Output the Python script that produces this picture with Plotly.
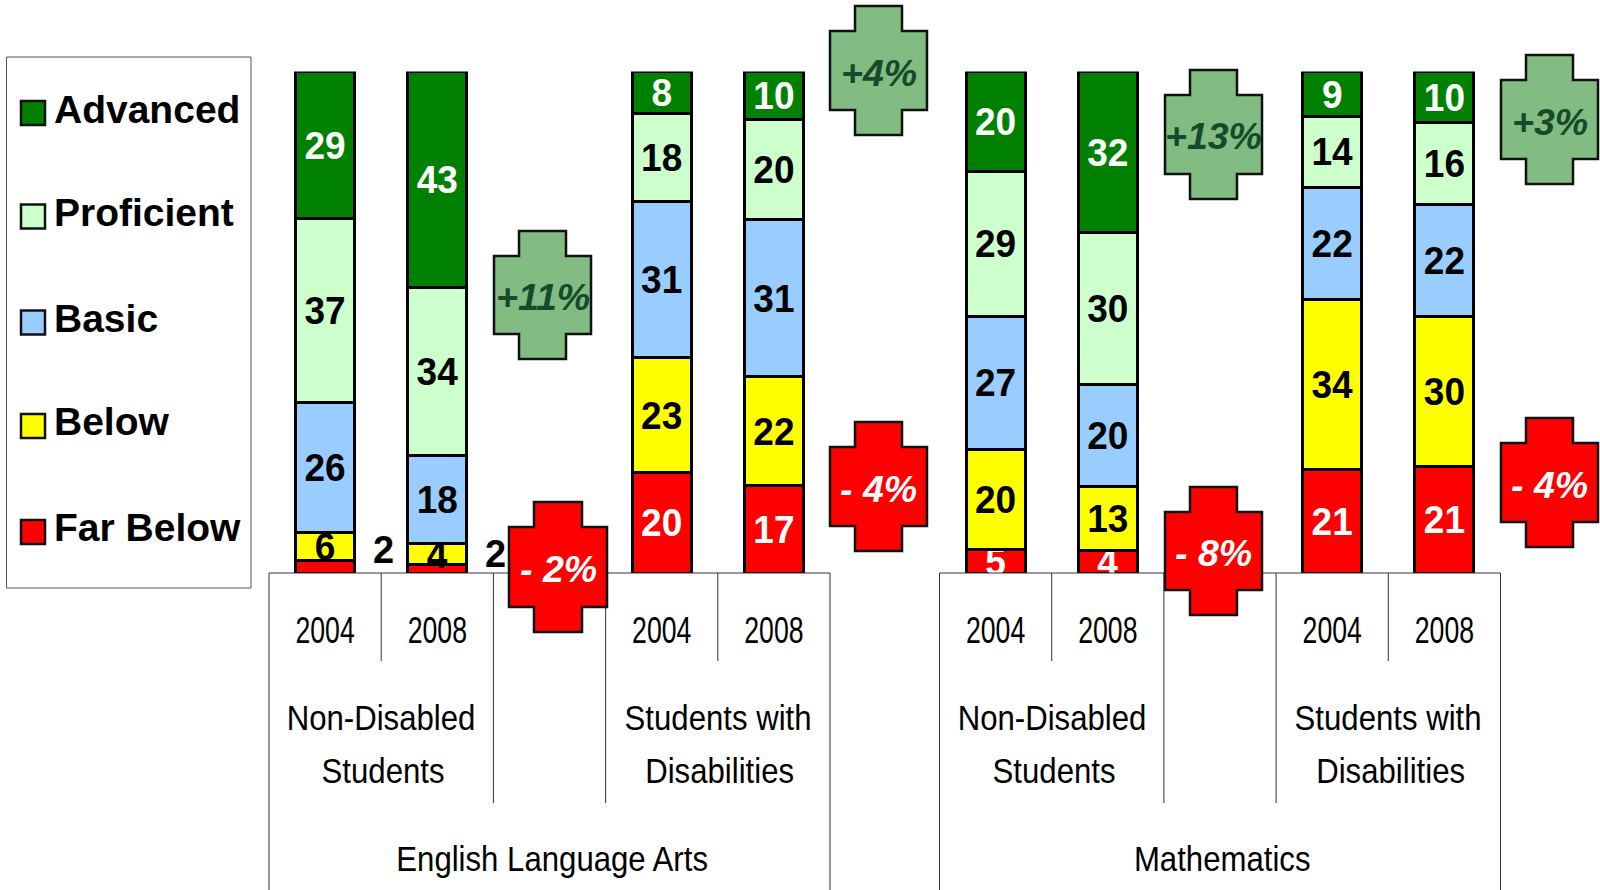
import plotly.graph_objects as go

WIDTH, HEIGHT = 1600, 890

# ---- data (percent of students, bottom to top of each stack) ----
years = ["2004", "2008", "2004", "2008"]
slots = [0, 1, 3, 4]
levels = ["Far Below", "Below", "Basic", "Proficient", "Advanced"]

far_below_ela = [2.4, 1.6, 20.0, 17.4]
below_ela = [5.7, 4.2, 23.0, 21.8]
basic_ela = [25.9, 17.6, 31.1, 31.2]
proficient_ela = [36.6, 33.6, 17.6, 20.0]
advanced_ela = [29.4, 43.0, 8.3, 9.6]

far_below_math = [4.6, 4.4, 20.6, 21.2]
below_math = [20.0, 12.8, 34.0, 29.9]
basic_math = [26.6, 20.4, 22.4, 22.4]
proficient_math = [28.9, 30.2, 14.1, 16.3]
advanced_math = [19.9, 32.2, 9.0, 10.2]

ela_values = [far_below_ela, below_ela, basic_ela, proficient_ela, advanced_ela]
math_values = [far_below_math, below_math, basic_math, proficient_math, advanced_math]

group_labels = [("Non-Disabled", "Students"), ("Students with", "Disabilities")]
subjects = ["English Language Arts", "Mathematics"]

callout_labels = ["+11%", "- 2%", "+4%", "- 4%", "+13%", "- 8%", "+3%", "- 4%"]

# ---- styles and layout ----
fills = ["#FF0000", "#FFFF00", "#99CCFF", "#CCFFCC", "#008000"]
text_colors = ["white", "black", "black", "black", "white"]
FONT = "Liberation Sans"
AXIS_LINE = "#333333"
BASE_Y, TOP_Y = 573, 71.5
ELA_X, MATH_X, PANEL_W = 269, 939.5, 561
LEVEL_Y = [661, 803, 890]


def px(x):
    return x / WIDTH


def py(y):
    return 1 - y / HEIGHT


fig = go.Figure()
for axis, table in (("x", ela_values), ("x2", math_values)):
    for i, name in enumerate(levels):
        vals = table[i]
        fig.add_trace(go.Bar(
            x=slots, y=vals, name=name, xaxis=axis, yaxis="y",
            text=[f"{v:.0f}" if v > 3 else "" for v in vals],
            textposition="inside", insidetextanchor="middle",
            constraintext="none", textangle=0, cliponaxis=False,
            textfont=dict(family=FONT, size=39, color=text_colors[i], weight=700),
            marker=dict(color=fills[i], line=dict(color="black", width=3)),
            showlegend=False, hoverinfo="skip",
        ))

shapes, annotations = [], []


def line(x0, y0, x1, y1, xref="paper"):
    shapes.append(dict(type="line", xref=xref, yref="paper", x0=x0, x1=x1,
                       y0=py(y0), y1=py(y1),
                       line=dict(color=AXIS_LINE, width=1)))


def label(text, x, y, xref):
    annotations.append(dict(text=text, x=x, y=py(y), xref=xref, yref="paper",
                            showarrow=False, xanchor="center", yanchor="middle",
                            font=dict(family=FONT, size=35, color="black")))


# table under each panel
for p, xd in enumerate(("x domain", "x2 domain")):
    line(0, BASE_Y, 1, BASE_Y, xd)
    for k in (1, 4):
        line(k / 5, BASE_Y, k / 5, LEVEL_Y[0], xd)
    for k in (2, 3):
        line(k / 5, BASE_Y, k / 5, LEVEL_Y[1], xd)
    for k in (0, 5):
        line(k / 5, BASE_Y, k / 5, LEVEL_Y[2], xd)
    for g, (first, second) in enumerate(group_labels):
        cx = (1 + 3 * g) / 5
        label(first, cx, 717, xd)
        label(second, cx + 2 / PANEL_W, 770, xd)
    label(subjects[p], 0.5 + 2 / PANEL_W, 858, xd)

# small "2" labels that sit beside the first two bars
for i in (0, 1):
    annotations.append(dict(text=f"{far_below_ela[i]:.0f}", x=slots[i], y=far_below_ela[i],
                            xref="x", yref="y", showarrow=False, xshift=58.5, yshift=11,
                            xanchor="center", yanchor="middle",
                            font=dict(family=FONT, size=38, color="black", weight=700)))

# legend
shapes.append(dict(type="rect", xref="paper", yref="paper", x0=px(6.5), x1=px(251),
                   y0=py(57), y1=py(588), line=dict(color="#555555", width=1),
                   fillcolor="white"))
legend_rows = [(4, 113), (3, 216.5), (2, 322.5), (1, 426), (0, 532)]
legend_text_y = [109, 213, 318, 421, 527]
for (i, cy), ty in zip(legend_rows, legend_text_y):
    shapes.append(dict(type="rect", xref="paper", yref="paper", x0=px(21), x1=px(45),
                       y0=py(cy - 12), y1=py(cy + 12), fillcolor=fills[i],
                       line=dict(color="#111111", width=2.5)))
    annotations.append(dict(text=levels[i], x=px(52), y=py(ty), xref="paper", yref="paper",
                            showarrow=False, xanchor="left", yanchor="middle",
                            font=dict(family=FONT, size=39, color="black", weight=700)))

# cross-shaped change call-outs: left, top, right, bottom in pixels
boxes = [(494, 231, 591, 359), (509, 502, 607, 632), (830, 6, 927, 135), (830, 422, 927, 551),
         (1165, 70, 1262, 199), (1165, 487, 1262, 615), (1501, 55, 1598, 184), (1501, 418, 1598, 547)]
NOTCH = 25
for text, (l, t, r, b) in zip(callout_labels, boxes):
    up = text.startswith("+")
    pts = [(l + NOTCH, t), (r - NOTCH, t), (r - NOTCH, t + NOTCH), (r, t + NOTCH),
           (r, b - NOTCH), (r - NOTCH, b - NOTCH), (r - NOTCH, b), (l + NOTCH, b),
           (l + NOTCH, b - NOTCH), (l, b - NOTCH), (l, t + NOTCH), (l + NOTCH, t + NOTCH)]
    path = "M" + " L".join(f"{px(a):.5f},{py(c):.5f}" for a, c in pts) + " Z"
    shapes.append(dict(type="path", xref="paper", yref="paper", path=path,
                       fillcolor="#82BC82" if up else "#FF0000",
                       line=dict(color="#111111", width=2.5)))
    annotations.append(dict(text=f"<b><i>{text}</i></b>", x=px((l + r) / 2), y=py((t + b) / 2 + 2),
                            xref="paper", yref="paper", showarrow=False,
                            xanchor="center", yanchor="middle",
                            font=dict(family=FONT, size=37.5, color="#17492A" if up else "white")))

tick_axis = dict(tickmode="array", tickvals=slots, ticktext=years, range=[-0.5, 4.5],
                 showgrid=False, zeroline=False, showline=False, ticks="outside", ticklen=26,
                 tickcolor="rgba(0,0,0,0)", tickfont=dict(family=FONT, size=36, color="black"),
                 anchor="y", fixedrange=True)

fig.update_layout(
    width=WIDTH, height=HEIGHT, margin=dict(l=0, r=0, t=0, b=0),
    paper_bgcolor="white", plot_bgcolor="white",
    barmode="stack", barnorm="percent", bargap=0.475, showlegend=False,
    xaxis=dict(tick_axis, domain=[px(ELA_X), px(ELA_X + PANEL_W)]),
    xaxis2=dict(tick_axis, domain=[px(MATH_X), px(MATH_X + PANEL_W)]),
    yaxis=dict(range=[0, 100], domain=[py(BASE_Y), py(TOP_Y)], visible=False, fixedrange=True),
    shapes=shapes, annotations=annotations,
)

# The reference's axis text is a horizontally condensed sans; squeeze the real text to match.
squeeze = """
document.body.style.margin = '0';
function squeezeText() {
  var rules = [['.xtick text', 36, 0.74], ['.x2tick text', 36, 0.74],
               ['.annotation-text', 35, 0.89], ['.bartext text', 39, 0.95],
               ['text.bartext', 39, 0.95]];
  rules.forEach(function (rule) {
    document.querySelectorAll(rule[0]).forEach(function (t) {
      if (parseFloat(t.style.fontSize) === rule[1] && !t.getAttribute('textLength')) {
        t.setAttribute('lengthAdjust', 'spacingAndGlyphs');
        t.setAttribute('textLength', (t.getComputedTextLength() * rule[2]).toFixed(1));
      }
    });
  });
}
squeezeText();
setTimeout(squeezeText, 100);
"""
fig.write_html("out.html", post_script=squeeze, config=dict(displayModeBar=False))
